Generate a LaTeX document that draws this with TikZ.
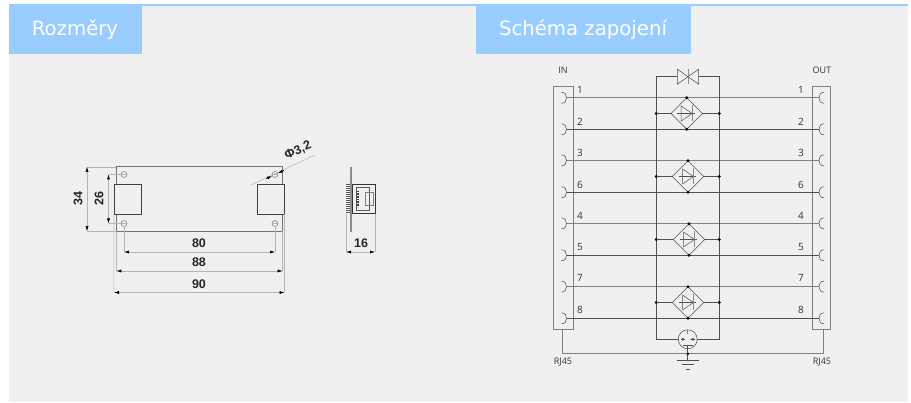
\documentclass[tikz,border=0pt]{standalone}
\usepackage{fontspec}
\setmainfont{Liberation Sans}
\newfontfamily\tabfont{DejaVu Sans}
\newfontfamily\labfont{Open Sans}
\usetikzlibrary{positioning,shapes.geometric,arrows.meta}
\definecolor{panel}{HTML}{F0F0F0}
\definecolor{tabblue}{HTML}{99CCFF}
\definecolor{wire}{HTML}{505050}
\definecolor{wirelt}{HTML}{808080}
\definecolor{dimln}{HTML}{B4B4B4}
\begin{document}
\begin{tikzpicture}
[x=1pt,y=-1pt,
 every node/.style={inner sep=0mm,outer sep=0mm},
 tabbox/.style={fill=tabblue,draw=none,rectangle,anchor=north west},
 tabtxt/.style={text=white,font=\tabfont\fontsize{19.7}{22}\selectfont},
 lab/.style={font=\labfont\fontsize{9}{10}\selectfont,text=black!80},
 pinno/.style={font=\labfont\fontsize{10}{11}\selectfont,text=black!80},
 num/.style={font=\fontsize{12.5}{14}\bfseries\selectfont,text=black!85},
 dot/.style={circle,fill=black,minimum size=3.2pt},
 wirea/.style={draw=wire,line width=.6pt},
 wireb/.style={draw=wirelt,line width=.6pt},
 conbox/.style={rectangle,draw=wirelt,line width=.6pt,minimum width=20pt,minimum height=243pt},
 bridge/.style={diamond,draw=wire,line width=.55pt,minimum size=31.5pt,aspect=1},
 hole/.style={circle,draw=wirelt,line width=.55pt,minimum size=6pt},
 jack/.style={rectangle,draw=black!75,line width=.7pt},
 dim/.style={draw=dimln,line width=.5pt,{Latex[length=5pt,width=3pt,black]}-{Latex[length=5pt,width=3pt,black]}},
 ext/.style={draw=dimln,line width=.5pt},
 conleft/.pic={\draw[wire,line width=.55pt] (-5,-5.5) .. controls (-1.5,-5.5) and (0,-3) .. (0,0) .. controls (0,3) and (-1.5,5.5) .. (-5,5.5);},
 conright/.pic={\draw[wire,line width=.55pt] (5,-5.5) .. controls (1.5,-5.5) and (0,-3) .. (0,0) .. controls (0,3) and (1.5,5.5) .. (5,5.5);},
 diodepic/.pic={\draw[wire,line width=.5pt] (-5.5,-7.5) -- (-5.5,7.5) -- (5.5,0) -- cycle;
   \draw[wire,line width=.4pt] (-9.5,0) -- (8,0);
   \draw[black!45,line width=.8pt] (5.8,-8) -- (5.8,8);},
 thick]
% panel
\useasboundingbox (0,0) rectangle (911,403);
\fill[white] (0,0) rectangle (911,403);
\fill[panel] (9,4) rectangle (908,402);
\fill[tabblue] (9,4) rectangle (908,6);
\node[tabbox,minimum width=133pt,minimum height=50pt] (tabA) at (9,4) {};
\node[tabbox,minimum width=215pt,minimum height=48pt] (tabB) at (476,6) {};
\node[tabtxt] (tabAt) at (75,29.5) {Rozměry};
\node[tabtxt] (tabBt) at (583,29.5) {Schéma zapojení};
% front view
\node[rectangle,draw=black!55,line width=.6pt,minimum width=166.4pt,minimum height=64.4pt] (plate) at (199.5,199) {};
\node[jack,fill=panel,minimum width=27.5pt,minimum height=30pt] (jackL) at (127.7,199) {};
\node[jack,fill=panel,minimum width=27pt,minimum height=30pt] (jackR) at (271,199) {};
\node[hole] (h1) at (124,174.5) {};
\node[hole] (h2) at (275,174.5) {};
\node[hole] (h3) at (124,223.5) {};
\node[hole] (h4) at (275,223.5) {};
\draw[ext] (h1.west) -- (h1.east);
\draw[ext] (h2.west) -- (h2.east);
\draw[ext] (h3.west) -- (h3.east);
\draw[ext] (h4.west) -- (h4.east);
\coordinate (e34a) at (87,166.8);
\coordinate (e34b) at (87,231.2);
\coordinate (e26a) at (108.5,174.5);
\coordinate (e26b) at (108.5,223.5);
\draw[ext] (e34a) -- (plate.north west);
\draw[ext] (e34b) -- (plate.south west);
\draw[ext] (e26a) -- (h1.west);
\draw[ext] (e26b) -- (h3.west);
\draw[dim] (e34a) -- (e34b);
\draw[dim] (e26a) -- (e26b);
\node[num,rotate=90] (n34) at (78,199) {34};
\node[num,rotate=90] (n26) at (99,199) {26};
\coordinate (d80a) at (124,252);
\coordinate (d80b) at (275,252);
\coordinate (d88a) at (116.3,271);
\coordinate (d88b) at (282.7,271);
\coordinate (d90a) at (114,292.5);
\coordinate (d90b) at (284.5,292.5);
\draw[ext] (h3.south) -- (d80a);
\draw[ext] (h4.south) -- (d80b);
\draw[ext] (plate.south west) -- (d88a);
\draw[ext] (plate.south east) -- (d88b);
\draw[ext] (jackL.south west) -- (d90a);
\draw[ext] (jackR.south east) -- (d90b);
\draw[dim] (d80a) -- (d80b);
\draw[dim] (d88a) -- (d88b);
\draw[dim] (d90a) -- (d90b);
\node[num] (n80) at (199,243) {80};
\node[num] (n88) at (199,262) {88};
\node[num] (n90) at (199,284) {90};
% hole callout
\coordinate (leadA) at (251,185);
\coordinate (leadB) at (315,155);
\coordinate (arrA) at (266,178.8);
\coordinate (arrB) at (272,176);
\coordinate (arrC) at (278,173.2);
\coordinate (arrD) at (284,170.4);
\draw[ext] (leadA) -- (leadB);
\draw[-{Latex[length=5pt,width=3pt,black]},draw=black,line width=.5pt] (arrA) -- (arrB);
\draw[-{Latex[length=5pt,width=3pt,black]},draw=black,line width=.5pt] (arrD) -- (arrC);
\node[num,rotate=23] (nphi) at (298,150.5) {Φ3,2};
% side view
\node[rectangle,fill=black!45,minimum width=2pt,minimum height=64.5pt] (side) at (350.8,199.3) {};
\node[rectangle,draw=black!80,line width=.6pt,minimum width=23pt,minimum height=29.5pt] (body) at (363.5,199) {};
\coordinate (combA) at (348,184);
\coordinate (combB) at (348,213.5);
\draw[black!65,line width=4pt,dash pattern=on 1.1pt off .9pt] (combA) -- (combB);
\node[rectangle,draw=black!65,line width=.5pt,minimum width=13pt,minimum height=22.5pt] (socket) at (362.5,199) {};
\node[rectangle,draw=black!50,line width=.5pt,minimum width=8pt,minimum height=13pt] (slot) at (369.5,199) {};
\coordinate (pinA) at (358,191);
\coordinate (pinB) at (358,207);
\draw[black!75,line width=2pt,dash pattern=on .8pt off .8pt] (pinA) -- (pinB);
\coordinate (d16a) at (346,252);
\coordinate (d16b) at (375,252);
\draw[ext] (346,214) -- (d16a);
\draw[ext] (body.south east) -- (d16b);
\draw[dim] (d16a) -- (d16b);
\node[num] (n16) at (361,243) {16};
% connectors
\node[lab] (IN)  at (563,70) {IN};
\node[lab] (OUT) at (822,70) {OUT};
\node[lab] (rjL) at (563,362) {RJ45};
\node[lab] (rjR) at (822,362) {RJ45};
\node[conbox] (boxL) at (563.3,207.5) {};
\node[conbox,minimum width=18.7pt] (boxR) at (821.4,207.5) {};
% contacts, top to bottom
\coordinate (in1) at (566.5,97.8);
\coordinate[on grid,below=31.5pt of in1] (in2);
\coordinate[on grid,below=62.6pt of in1] (in3);
\coordinate[on grid,below=94.5pt of in1] (in4);
\coordinate[on grid,below=125.6pt of in1] (in5);
\coordinate[on grid,below=157.5pt of in1] (in6);
\coordinate[on grid,below=188.8pt of in1] (in7);
\coordinate[on grid,below=220.5pt of in1] (in8);
\coordinate (out1) at (819,97.8);
\coordinate[on grid,below=31.5pt of out1] (out2);
\coordinate[on grid,below=62.6pt of out1] (out3);
\coordinate[on grid,below=94.5pt of out1] (out4);
\coordinate[on grid,below=125.6pt of out1] (out5);
\coordinate[on grid,below=157.5pt of out1] (out6);
\coordinate[on grid,below=188.8pt of out1] (out7);
\coordinate[on grid,below=220.5pt of out1] (out8);
\pic at (in1) {conleft};
\pic at (in2) {conleft};
\pic at (in3) {conleft};
\pic at (in4) {conleft};
\pic at (in5) {conleft};
\pic at (in6) {conleft};
\pic at (in7) {conleft};
\pic at (in8) {conleft};
\pic at (out1) {conright};
\pic at (out2) {conright};
\pic at (out3) {conright};
\pic at (out4) {conright};
\pic at (out5) {conright};
\pic at (out6) {conright};
\pic at (out7) {conright};
\pic at (out8) {conright};
\draw[wireb] (in1) -- (out1);
\draw[wirea] (in2) -- (out2);
\draw[wireb] (in3) -- (out3);
\draw[wirea] (in4) -- (out4);
\draw[wireb] (in5) -- (out5);
\draw[wirea] (in6) -- (out6);
\draw[wireb] (in7) -- (out7);
\draw[wirea] (in8) -- (out8);
\node[pinno] (la1) at (580,90) {1};
\node[pinno] (la2) at (580,121.5) {2};
\node[pinno] (la3) at (580,153) {3};
\node[pinno] (la6) at (580,184.5) {6};
\node[pinno] (la4) at (580,215.5) {4};
\node[pinno] (la5) at (580,247) {5};
\node[pinno] (la7) at (580,278) {7};
\node[pinno] (la8) at (580,310) {8};
\node[pinno] (lb1) at (801,90) {1};
\node[pinno] (lb2) at (801,121.5) {2};
\node[pinno] (lb3) at (801,153) {3};
\node[pinno] (lb6) at (801,184.5) {6};
\node[pinno] (lb4) at (801,215.5) {4};
\node[pinno] (lb5) at (801,247) {5};
\node[pinno] (lb7) at (801,278) {7};
\node[pinno] (lb8) at (801,310) {8};
% buses
\node[rectangle,minimum width=21.4pt,minimum height=15pt] (tvs) at (688,76.7) {};
\node[circle,draw=wire,line width=.55pt,minimum size=19pt] (gas) at (687.7,339.3) {};
\coordinate (busTL) at (656.3,76.7);
\coordinate (busTR) at (719.3,76.7);
\coordinate (busBL) at (656.3,339.3);
\coordinate (busBR) at (719.3,339.3);
\draw[wirea] (tvs.west) -- (busTL) -- (busBL) -- (gas.west);
\draw[wirea] (tvs.east) -- (busTR) -- (busBR) -- (gas.east);
\draw[wire,line width=.55pt] (tvs.north west) -- (tvs.south east) -- (tvs.north east) -- (tvs.south west) -- cycle;
\coordinate (zA) at (688,69);
\coordinate (zB) at (688,84.5);
\draw[black!45,line width=.6pt] (zA) -- (zB);
% bridges
\node[bridge] (br1) at (686.7,113.5) {};
\node[bridge] (br2) at (688,176.5) {};
\node[bridge] (br3) at (689,239.5) {};
\node[bridge] (br4) at (688,302.5) {};
\pic at (br1) {diodepic};
\pic at (br2) {diodepic};
\pic at (br3) {diodepic};
\pic at (br4) {diodepic};
\node[dot] (br1l) at (656.3,113.5) {};
\node[dot] (br1r) at (719.3,113.5) {};
\node[dot] (br2l) at (656.3,176.5) {};
\node[dot] (br2r) at (719.3,176.5) {};
\node[dot] (br3l) at (656.3,239.5) {};
\node[dot] (br3r) at (719.3,239.5) {};
\node[dot] (br4l) at (656.3,302.5) {};
\node[dot] (br4r) at (719.3,302.5) {};
\draw[wirea] (br1l) -- (br1.west);
\draw[wirea] (br1.east) -- (br1r);
\draw[wirea] (br2l) -- (br2.west);
\draw[wirea] (br2.east) -- (br2r);
\draw[wirea] (br3l) -- (br3.west);
\draw[wirea] (br3.east) -- (br3r);
\draw[wirea] (br4l) -- (br4.west);
\draw[wirea] (br4.east) -- (br4r);
\node[dot] at (br1.north) {};
\node[dot] at (br1.south) {};
\node[dot] at (br2.north) {};
\node[dot] at (br2.south) {};
\node[dot] at (br3.north) {};
\node[dot] at (br3.south) {};
\node[dot] at (br4.north) {};
\node[dot] at (br4.south) {};
% arrester and earth
\node[dot] (gnd) at (687.7,353.7) {};
\coordinate (gasT) at (687.7,345);
\coordinate (gasTl) at (683,345);
\coordinate (gasTr) at (692.5,345);
\coordinate (gasU) at (687.7,330);
\coordinate (gasV) at (687.7,334);
\coordinate (gasA) at (680.5,339.3);
\coordinate (gasB) at (685.5,339.3);
\coordinate (gasC) at (695,339.3);
\coordinate (gasD) at (690,339.3);
\draw[wirea] (gasTl) -- (gasTr);
\draw[wirea] (gasT) -- (gnd);
\draw[draw=black!50,line width=1pt] (gasU) -- (gasV);
\draw[-{Latex[length=3.5pt,width=3pt]},wire,line width=.4pt] (gasA) -- (gasB);
\draw[-{Latex[length=3.5pt,width=3pt]},wire,line width=.4pt] (gasC) -- (gasD);
\coordinate (rjLa) at (562,329);
\coordinate (rjLb) at (562,353.7);
\coordinate (rjRa) at (823,329);
\coordinate (rjRb) at (823,353.7);
\draw[wireb] (rjLa) -- (rjLb) -- (gnd) -- (rjRb) -- (rjRa);
\coordinate (gndA) at (687.7,360);
\coordinate (g1a) at (676.7,360);
\coordinate (g1b) at (698.5,360);
\coordinate (g2a) at (681.5,364);
\coordinate (g2b) at (693.5,364);
\coordinate (g3a) at (685.5,369);
\coordinate (g3b) at (690,369);
\draw[wirea] (gnd) -- (gndA);
\draw[wirea] (g1a) -- (g1b);
\draw[wirea] (g2a) -- (g2b);
\draw[wirea] (g3a) -- (g3b);
\end{tikzpicture}
\end{document}
